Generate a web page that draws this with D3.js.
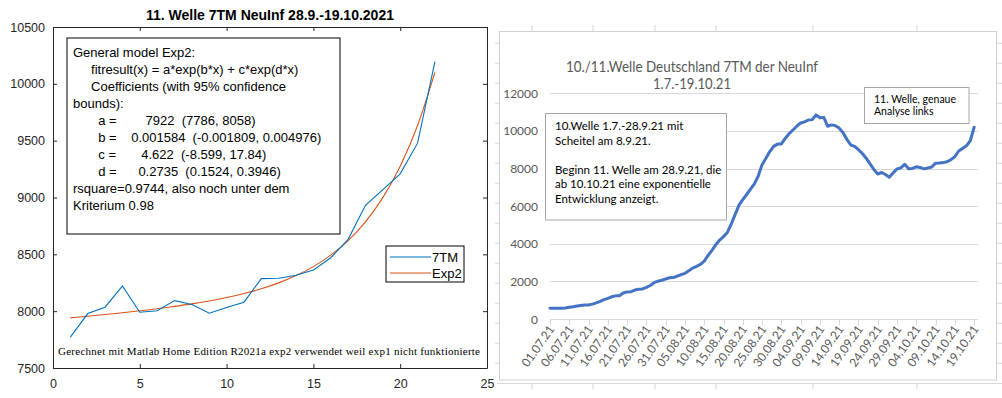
<!DOCTYPE html>
<html>
<head>
<meta charset="utf-8">
<script src="https://cdn.jsdelivr.net/npm/d3@7"></script>
<style>
  body { margin: 0; background: #fff; }
  svg { display: block; }
</style>
</head>
<body>
<div id="container"></div>
<script>
// ---- left chart: 11. Welle fit (Matlab) ----
const waveDays = d3.range(1, 23)   // day number 1..22 (28.9. - 19.10.)
const val7TM = [7772, 7979, 8035, 8222, 7991, 8003, 8093, 8058, 7982, 8032, 8079,
                8286, 8289, 8316, 8362, 8470, 8632, 8932, 9070, 9208, 9478, 10196]
const valExp2 = [7941, 7955, 7970, 7986, 8003, 8021, 8042, 8064, 8090, 8120, 8155,
                 8197, 8249, 8313, 8392, 8493, 8621, 8786, 8999, 9275, 9633, 10101]
const leftXTicks = [0, 5, 10, 15, 20, 25]
const leftYTicks = [7500, 8000, 8500, 9000, 9500, 10000, 10500]
const fitText = [
    "General model Exp2:",
    "     fitresult(x) = a*exp(b*x) + c*exp(d*x)",
    "     Coefficients (with 95% confidence",
    "bounds):",
    "       a =        7922  (7786, 8058)",
    "       b =    0.001584  (-0.001809, 0.004976)",
    "       c =       4.622  (-8.599, 17.84)",
    "       d =      0.2735  (0.1524, 0.3946)",
    "rsquare=0.9744, also noch unter dem",
    "Kriterium 0.98"
]

// ---- right chart: 10./11. Welle (Excel) ----
const wave7TM = [570, 565, 568, 572, 580, 620, 650, 690, 720, 740,
                 745, 790, 860, 940, 1030, 1100, 1180, 1230, 1240, 1380,
                 1440, 1450, 1540, 1580, 1600, 1680, 1780, 1930, 2010, 2060,
                 2130, 2190, 2200, 2280, 2360, 2430, 2560, 2710, 2800, 2900,
                 3080, 3380, 3650, 3950, 4200, 4380, 4600, 5050, 5550, 6050,
                 6350, 6620, 6900, 7180, 7600, 8200, 8550, 8900, 9180, 9300,
                 9310, 9600, 9850, 10050, 10250, 10420, 10480, 10580, 10600, 10850,
                 10700, 10720, 10250, 10320, 10280, 10150, 9900, 9550, 9250, 9180,
                 9000, 8800, 8550, 8250, 7950, 7710, 7790, 7680, 7540, 7772,
                 7979, 8035, 8222, 7991, 8003, 8093, 8058, 7982, 8032, 8079,
                 8286, 8289, 8316, 8362, 8470, 8632, 8932, 9070, 9208, 9478,
                 10196]
const dateLabels = ["01.07.21", "06.07.21", "11.07.21", "16.07.21", "21.07.21", "26.07.21",
                    "31.07.21", "05.08.21", "10.08.21", "15.08.21", "20.08.21", "25.08.21",
                    "30.08.21", "04.09.21", "09.09.21", "14.09.21", "19.09.21", "24.09.21",
                    "29.09.21", "04.10.21", "09.10.21", "14.10.21", "19.10.21"]
const rightYTicks = [0, 2000, 4000, 6000, 8000, 10000, 12000]
const note1 = ["10.Welle 1.7.-28.9.21 mit", "Scheitel am 8.9.21.", "",
               "Beginn 11. Welle am 28.9.21, die", "ab 10.10.21 eine exponentielle",
               "Entwicklung anzeigt."]
const note2 = ["11. Welle, genaue", "Analyse links"]

const width = 1002, height = 398

const svg = d3.select("#container").append("svg")
    .attr("width", width)
    .attr("height", height)

// ================= left chart =================
const left = svg.append("g")
const xL = d3.scaleLinear().domain([0, 25]).range([53, 487])
const yL = d3.scaleLinear().domain([7500, 10500]).range([368, 27])
const axisCol = "#262626"

left.append("text")
    .attr("x", 270).attr("y", 20)
    .attr("text-anchor", "middle")
    .style("font", "bold 14px 'Liberation Sans', Arial, sans-serif")
    .attr("fill", "#000")
    .text("11. Welle 7TM NeuInf 28.9.-19.10.2021")

function styleAxis(g) {
    g.selectAll("path").attr("stroke", axisCol)
    g.selectAll("line").attr("stroke", axisCol)
    g.selectAll("text").attr("fill", axisCol)
        .style("font", "12.5px 'Liberation Sans', Arial, sans-serif")
}

left.append("g")
    .attr("transform", "translate(0,368)")
    .call(d3.axisBottom(xL).tickValues(leftXTicks).tickSizeInner(-4).tickSizeOuter(0).tickPadding(11))
    .call(styleAxis)
left.append("g")
    .attr("transform", "translate(0,27)")
    .call(d3.axisTop(xL).tickValues(leftXTicks).tickSizeInner(-4).tickSizeOuter(0).tickFormat(""))
    .call(styleAxis)
left.append("g")
    .attr("transform", "translate(53,0)")
    .call(d3.axisLeft(yL).tickValues(leftYTicks).tickFormat(d3.format("d"))
        .tickSizeInner(-4).tickSizeOuter(0).tickPadding(8))
    .call(styleAxis)
left.append("g")
    .attr("transform", "translate(487,0)")
    .call(d3.axisRight(yL).tickValues(leftYTicks).tickSizeInner(-4).tickSizeOuter(0).tickFormat(""))
    .call(styleAxis)

left.append("path")
    .datum(valExp2)
    .attr("fill", "none")
    .attr("stroke", "#D95319")
    .attr("stroke-width", 1.1)
    .attr("d", d3.line()
        .x((d, i) => xL(waveDays[i]))
        .y(d => yL(d))
        .curve(d3.curveMonotoneX))

left.append("path")
    .datum(val7TM)
    .attr("fill", "none")
    .attr("stroke", "#0072BD")
    .attr("stroke-width", 1.1)
    .attr("d", d3.line()
        .x((d, i) => xL(waveDays[i]))
        .y(d => yL(d)))

// fit result box
left.append("rect")
    .attr("x", 67).attr("y", 38).attr("width", 273).attr("height", 196)
    .attr("fill", "#fff").attr("stroke", "#000").attr("stroke-width", 1)
left.append("g").selectAll("text")
    .data(fitText)
    .join("text")
    .attr("x", 73)
    .attr("y", (d, i) => 57 + i * 17)
    .attr("xml:space", "preserve")
    .style("white-space", "pre")
    .style("font", "13px 'Liberation Sans', Arial, sans-serif")
    .attr("fill", "#000")
    .text(d => d)

// legend
const leg = left.append("g").attr("transform", "translate(386,246)")
leg.append("rect").attr("width", 78).attr("height", 36)
    .attr("fill", "#fff").attr("stroke", "#000")
const legItems = [["7TM", "#0072BD"], ["Exp2", "#D95319"]]
legItems.forEach(([name, col], i) => {
    leg.append("line")
        .attr("x1", 4).attr("x2", 45)
        .attr("y1", 11 + i * 16).attr("y2", 11 + i * 16)
        .attr("stroke", col).attr("stroke-width", 1.1)
    leg.append("text")
        .attr("x", 46).attr("y", 16 + i * 16)
        .style("font", "13px 'Liberation Sans', Arial, sans-serif")
        .text(name)
})

left.append("text")
    .attr("x", 58).attr("y", 355)
    .style("font", "11px 'Liberation Serif', 'Times New Roman', serif")
    .attr("textLength", 422)
    .attr("fill", "#000")
    .text("Gerechnet mit Matlab Home Edition R2021a exp2 verwendet weil exp1 nicht funktionierte")

// ================= right chart =================
const right = svg.append("g")
const gridCol = "#d9d9d9"
const sheetCol = "#d6d6d6"
const xlFont = "Lato, 'Open Sans', sans-serif"

// spreadsheet fragments round the chart
const sheetCols = [532, 593, 655, 716, 813, 917]
const sheetRows = d3.range(43.3, 380, 20)
right.append("line").attr("x1", 497).attr("x2", 1002).attr("y1", 383.5).attr("y2", 383.5)
    .attr("stroke", sheetCol)
right.selectAll(".colTop").data(sheetCols).join("line")
    .attr("x1", d => d).attr("x2", d => d).attr("y1", 25).attr("y2", 31)
    .attr("stroke", sheetCol)
right.selectAll(".colBot").data(sheetCols).join("line")
    .attr("x1", d => d).attr("x2", d => d).attr("y1", 383).attr("y2", 389)
    .attr("stroke", sheetCol)
right.selectAll(".rowL").data(sheetRows).join("line")
    .attr("x1", 495).attr("x2", 500).attr("y1", d => d).attr("y2", d => d)
    .attr("stroke", sheetCol)
right.selectAll(".rowR").data(sheetRows).join("line")
    .attr("x1", 997).attr("x2", 1002).attr("y1", d => d).attr("y2", d => d)
    .attr("stroke", sheetCol)

right.append("rect")
    .attr("x", 499.5).attr("y", 31.5).attr("width", 497).attr("height", 348.5)
    .attr("fill", "#fff").attr("stroke", "#d0d0d0")

const xR = d3.scaleLinear().domain([0, 111]).range([550, 978])
const yR = d3.scaleLinear().domain([0, 12000]).range([319, 93.3])

right.selectAll(".grid").data(rightYTicks).join("line")
    .attr("x1", 550).attr("x2", 978)
    .attr("y1", d => Math.round(yR(d)) + 0.5).attr("y2", d => Math.round(yR(d)) + 0.5)
    .attr("stroke", gridCol)

right.selectAll(".ylab").data(rightYTicks).join("text")
    .attr("x", 538).attr("y", d => yR(d) + 4.5)
    .attr("text-anchor", "end")
    .style("font", "12px " + xlFont)
    .attr("fill", "#595959")
    .text(d => d)

const tickIdx = dateLabels.map((d, i) => i * 5)
right.selectAll(".xtick").data(tickIdx).join("line")
    .attr("x1", d => Math.round(xR(d)) + 0.5).attr("x2", d => Math.round(xR(d)) + 0.5)
    .attr("y1", 319).attr("y2", 325)
    .attr("stroke", gridCol)
right.selectAll(".xlab").data(dateLabels).join("text")
    .attr("transform", (d, i) => "translate(" + (xR(tickIdx[i]) + 5) + ",329) rotate(-55)")
    .attr("text-anchor", "end")
    .style("font", "12px " + xlFont)
    .attr("fill", "#595959")
    .text(d => d)

right.append("path")
    .datum(wave7TM)
    .attr("fill", "none")
    .attr("stroke", "#4472C4")
    .attr("stroke-width", 3)
    .attr("stroke-linejoin", "round")
    .attr("stroke-linecap", "round")
    .attr("d", d3.line()
        .x((d, i) => xR(i))
        .y(d => yR(d)))

right.append("text")
    .attr("x", 692).attr("y", 72)
    .attr("text-anchor", "middle")
    .style("font", "15px " + xlFont)
    .attr("textLength", 252)
    .attr("lengthAdjust", "spacingAndGlyphs")
    .attr("fill", "#595959")
    .text("10./11.Welle Deutschland 7TM der NeuInf")
right.append("text")
    .attr("x", 692).attr("y", 89)
    .attr("text-anchor", "middle")
    .style("font", "15px " + xlFont)
    .attr("textLength", 78)
    .attr("lengthAdjust", "spacingAndGlyphs")
    .attr("fill", "#595959")
    .text("1.7.-19.10.21")

// annotation boxes
right.append("rect")
    .attr("x", 545.5).attr("y", 113.5).attr("width", 181).attr("height", 106.5)
    .attr("fill", "#fff").attr("stroke", "#a6a6a6")
right.selectAll(".n1").data(note1).join("text")
    .attr("x", 555).attr("y", (d, i) => 130 + i * 14.6)
    .style("font", "11.5px " + xlFont)
    .attr("fill", "#000")
    .text(d => d)

right.append("rect")
    .attr("x", 864.5).attr("y", 87.5).attr("width", 104.5).attr("height", 36)
    .attr("fill", "#fff").attr("stroke", "#a6a6a6")
right.selectAll(".n2").data(note2).join("text")
    .attr("x", 874).attr("y", (d, i) => 103 + i * 12)
    .style("font", "10.5px " + xlFont)
    .attr("fill", "#000")
    .text(d => d)
</script>
</body>
</html>
